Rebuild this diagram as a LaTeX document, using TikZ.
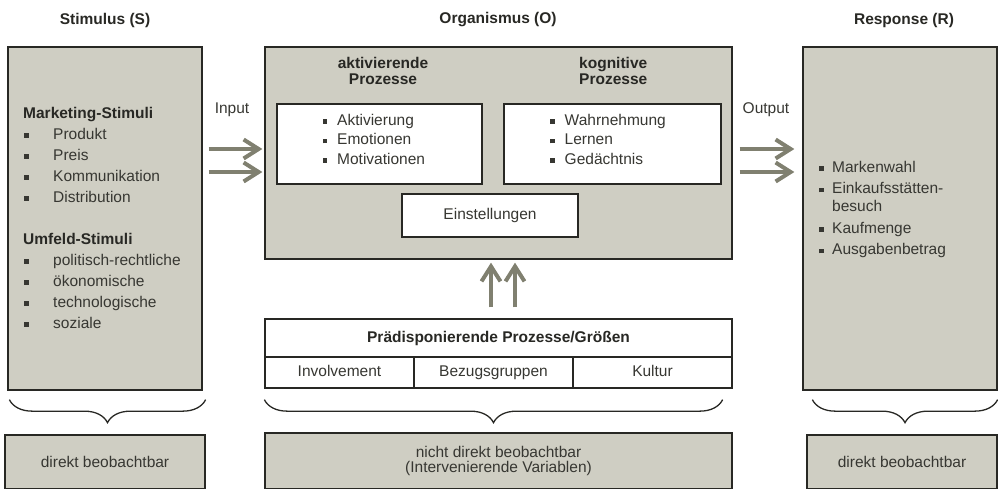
\documentclass[tikz,border=0pt]{standalone}
\usepackage{fontspec}
\setmainfont{Liberation Sans}
\usetikzlibrary{arrows.meta,decorations.pathreplacing,calc}

\definecolor{boxgray}{RGB}{207,206,195}
\definecolor{arrowgray}{RGB}{128,128,112}
\definecolor{linecol}{RGB}{40,40,36}
\definecolor{txtcol}{RGB}{55,55,50}

\newcommand{\sqb}{\rule[1.5pt]{4.6pt}{4.6pt}}

\begin{document}
\begin{tikzpicture}[x=1pt,y=-1pt,font=\fontsize{15.5pt}{18pt}\selectfont]

\tikzset{graybox/.style={rectangle,draw=linecol,line width=1.3pt,fill=boxgray,inner sep=0pt,text=txtcol},}
\tikzset{whitebox/.style={rectangle,draw=linecol,line width=1.3pt,fill=white,inner sep=0pt,text=txtcol},}
\tikzset{cell/.style={whitebox,minimum height=31pt,text height=11pt,text depth=3.5pt},}
\tikzset{title/.style={font=\fontsize{15.5pt}{16pt}\selectfont\bfseries,text=linecol,inner sep=0pt},}
\tikzset{list/.style={align=left,inner sep=0pt,text=txtcol,anchor=north west},}
\tikzset{flow/.style={-{Straight Barb[length=15pt,width=19pt]},line width=4pt,arrowgray},}
\tikzset{curly/.style={decorate,decoration={brace,mirror,amplitude=23pt},line width=1.3pt,linecol},}

\useasboundingbox (0,0) rectangle (998,488);
\clip (0,0) rectangle (998,488);

%TITEL
\draw (105,20) node [title] (tS) {Stimulus (S)};
\draw (498,20) node [title] (tO) {Organismus (O)};
\draw (904,20) node [title] (tR) {Response (R)};

%STIMULUS
\draw (105,218.5) node [graybox,minimum width=194pt,minimum height=343pt] (S) {};
\draw (23,107) node [list,font=\fontsize{15.5pt}{21pt}\selectfont] (listS) {\textbf{\color{linecol}Marketing-Stimuli}\\
\makebox[30pt][l]{\hspace{1pt}\sqb}Produkt\\
\makebox[30pt][l]{\hspace{1pt}\sqb}Preis\\
\makebox[30pt][l]{\hspace{1pt}\sqb}Kommunikation\\
\makebox[30pt][l]{\hspace{1pt}\sqb}Distribution\\[21pt]
\textbf{\color{linecol}Umfeld-Stimuli}\\
\makebox[30pt][l]{\hspace{1pt}\sqb}politisch-rechtliche\\
\makebox[30pt][l]{\hspace{1pt}\sqb}ökonomische\\
\makebox[30pt][l]{\hspace{1pt}\sqb}technologische\\
\makebox[30pt][l]{\hspace{1pt}\sqb}soziale};

%ORGANISMUS
\draw (498.5,153) node [graybox,minimum width=467pt,minimum height=212pt] (O) {};
\draw (383,57) node [title,align=center,anchor=north] (hA) {aktivierende\\Prozesse};
\draw (579,57) node [title,align=left,anchor=north west] (hK) {kognitive\\Prozesse};
\draw (379.5,144) node [whitebox,minimum width=205pt,minimum height=80pt] (A) {};
\draw (612.5,144) node [whitebox,minimum width=217pt,minimum height=80pt] (K) {};
\draw (322.5,114) node [list,font=\fontsize{15.5pt}{19.5pt}\selectfont] (listA) {\makebox[14.5pt][l]{\sqb}Aktivierung\\
\makebox[14.5pt][l]{\sqb}Emotionen\\
\makebox[14.5pt][l]{\sqb}Motivationen};
\draw (550,114) node [list,font=\fontsize{15.5pt}{19.5pt}\selectfont] (listK) {\makebox[14.5pt][l]{\sqb}Wahrnehmung\\
\makebox[14.5pt][l]{\sqb}Lernen\\
\makebox[14.5pt][l]{\sqb}Gedächtnis};
\draw (490,215.5) node [whitebox,minimum width=176pt,minimum height=43pt] (E) {Einstellungen};

%PRAEDISPONIERENDE
\draw (498.5,338) node [whitebox,minimum width=467pt,minimum height=38pt,font=\fontsize{15.5pt}{18pt}\selectfont\bfseries,text=linecol] (P) {Prädisponierende Prozesse/Größen};
\draw (339.5,372.5) node [cell,minimum width=149pt] (I) {Involvement};
\draw (493.5,372.5) node [cell,minimum width=159pt] (B) {Bezugsgruppen};
\draw (652.5,372.5) node [cell,minimum width=159pt] (Ku) {Kultur};

%RESPONSE
\draw (900,218.5) node [graybox,minimum width=194pt,minimum height=343pt] (R) {};
\draw (819,161) node [list] (listR) {\makebox[13pt][l]{\sqb}Markenwahl\\[3.5pt]
\makebox[13pt][l]{\sqb}Einkaufsstätten-\\
\hspace{13pt}besuch\\[3.5pt]
\makebox[13pt][l]{\sqb}Kaufmenge\\[3.5pt]
\makebox[13pt][l]{\sqb}Ausgabenbetrag};

%PFEILE
\coordinate (in1) at (0,149);
\coordinate (in2) at (0,172);
\draw (232,110) node [text=txtcol,inner sep=0pt] (lIn) {Input};
\draw (766,110) node [text=txtcol,inner sep=0pt] (lOut) {Output};
\draw[flow] ($(S.east |- in1)+(6,0)$) -- ($(O.west |- in1)+(-2,0)$);
\draw[flow] ($(S.east |- in2)+(6,0)$) -- ($(O.west |- in2)+(-2,0)$);
\draw[flow] ($(O.east |- in1)+(7,0)$) -- ($(R.west |- in1)+(-8,0)$);
\draw[flow] ($(O.east |- in2)+(7,0)$) -- ($(R.west |- in2)+(-8,0)$);
\draw[flow] ($(P.north)+(-7.5,-11)$) -- ($(O.south)+(-7.5,3)$);
\draw[flow] ($(P.north)+(16.5,-11)$) -- ($(O.south)+(16.5,3)$);

%KLAMMERN
\draw[curly] ($(S.south west)+(2,9)$) -- ($(S.south east)+(3,9)$);
\draw[curly] ($(I.south west)+(0,11)$) -- ($(Ku.south east)+(-10,11)$);
\draw[curly] ($(R.south west)+(10,9)$) -- ($(R.south east)+(0,9)$);

%BEOBACHTBAR
\draw (105,462) node [graybox,minimum width=200pt,minimum height=54pt] (obsS) {direkt beobachtbar};
\draw (498.5,461) node [graybox,minimum width=467pt,minimum height=56pt,align=center,font=\fontsize{15.5pt}{15pt}\selectfont] (obsO) {nicht direkt beobachtbar\\(Intervenierende Variablen)};
\draw (902,462) node [graybox,minimum width=190pt,minimum height=54pt] (obsR) {direkt beobachtbar};

\end{tikzpicture}
\end{document}
